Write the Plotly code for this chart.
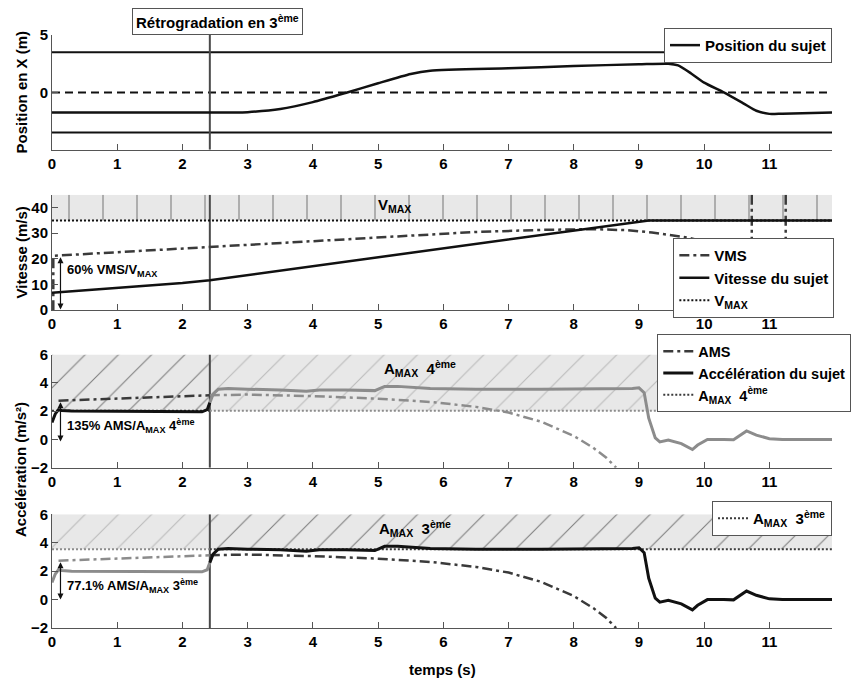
import plotly.graph_objects as go

# ---------------- data ----------------
EVENT_T = 2.42
T_END = 11.96

# Panel 1 : lateral position
LANE_EDGES = [-3.5, 3.5]
LANE_CENTER = 0.0
pos_t = [0, 2.8, 3.0, 3.5, 4.0, 4.5, 5.0, 5.5, 5.8, 7.0, 8.0, 9.0, 9.45, 9.6, 9.8, 10.0, 10.3, 10.6, 10.8, 11.0, 11.2, 11.96]
pos_x = [-1.75, -1.75, -1.72, -1.45, -0.85, -0.05, 0.8, 1.6, 1.88, 2.1, 2.3, 2.45, 2.5, 2.35, 1.65, 0.85, 0.0, -0.95, -1.6, -1.87, -1.85, -1.75]

# Panel 2 : speed
VMAX = 35.0
V_TOP = 45.0
vms_t = [0.02, 0.02, 1.0, 2.0, 2.42, 3.0, 4.0, 5.0, 5.8, 6.5, 7.5, 8.3, 8.8, 9.2, 9.75, 10.2]
vms_v = [0.0, 21.2, 22.6, 24.0, 24.6, 25.5, 27.0, 28.4, 29.6, 30.5, 31.3, 31.6, 31.2, 30.3, 28.3, 25.5]
vms_spike_t = [10.73, 11.25]
vms_spike_lo = [20.0, 20.0]
speed_t = [0, 1.0, 2.0, 2.42, 4.0, 6.0, 8.0, 9.15, 11.96]
speed_v = [6.8, 8.6, 10.6, 11.7, 17.2, 24.1, 31.1, 35.0, 35.0]

# Panels 3 & 4 : acceleration
AMAX_4 = 2.03
AMAX_3 = 3.55
A_TOP = 6.0
ams_t = [0.1, 1.0, 2.0, 2.42, 3.0, 4.0, 5.0, 5.8, 6.5, 7.0, 7.5, 8.0, 8.3, 8.5, 8.65]
ams_a = [2.74, 2.88, 3.03, 3.12, 3.17, 3.06, 2.88, 2.65, 2.3, 1.9, 1.25, 0.25, -0.6, -1.3, -2.0]
acc_t = [0, 0.05, 0.1, 0.15, 0.3, 1.0, 2.0, 2.3, 2.38, 2.42, 2.47, 2.55, 2.7, 3.0, 3.5, 3.9, 4.1, 4.5, 4.95,
         5.1, 5.3, 5.8, 6.5, 7.5, 8.5, 8.9, 9.0, 9.08, 9.15, 9.25, 9.32, 9.45, 9.65, 9.82, 9.9, 10.05, 10.3,
         10.45, 10.65, 10.8, 11.0, 11.2, 11.96]
acc_a = [1.2, 1.8, 2.1, 2.05, 2.0, 2.0, 2.0, 1.95, 2.1, 2.6, 3.2, 3.55, 3.6, 3.55, 3.5, 3.4, 3.5, 3.5, 3.45,
         3.75, 3.75, 3.6, 3.55, 3.55, 3.55, 3.6, 3.65, 3.3, 1.5, 0.1, -0.18, -0.05, -0.3, -0.72, -0.4, 0.0, 0.0,
         -0.02, 0.6, 0.3, 0.05, 0.0, 0.0]

X_TICKS = list(range(0, 12))

# ---------------- styling ----------------
FONT = "Liberation Sans"
BLACK = "#111111"
GRAY = "#8c8c8c"
DARK = "#3a3a3a"
EVT = "#4a4a4a"
BAND = "#e8e8e8"
DASHDOT = "10px,4px,3px,4px"
DOT = "2px,2px"


def split(t, v, cut):
    b = [(a, c) for a, c in zip(t, v) if a <= cut]
    f = [(a, c) for a, c in zip(t, v) if a >= cut]
    return [p[0] for p in b], [p[1] for p in b], [p[0] for p in f], [p[1] for p in f]


fig = go.Figure()

# ---- panel 1 ----
for ly in LANE_EDGES:
    fig.add_trace(go.Scatter(x=[0, T_END], y=[ly, ly], mode="lines", line=dict(color=BLACK, width=2),
                             showlegend=False, xaxis="x", yaxis="y", hoverinfo="skip"))
fig.add_trace(go.Scatter(x=[0, T_END], y=[LANE_CENTER, LANE_CENTER], mode="lines",
                         line=dict(color=BLACK, width=2, dash="8px,5px"), showlegend=False,
                         xaxis="x", yaxis="y", hoverinfo="skip"))
fig.add_trace(go.Scatter(x=[EVENT_T, EVENT_T], y=[-5, 5], mode="lines", line=dict(color=EVT, width=2),
                         showlegend=False, xaxis="x", yaxis="y"))
fig.add_trace(go.Scatter(x=pos_t, y=pos_x, mode="lines", line=dict(color=BLACK, width=2.5, shape="spline", smoothing=0.6),
                         name="Position du sujet", legend="legend", xaxis="x", yaxis="y"))

# ---- panel 2 ----
fig.add_trace(go.Scatter(x=[0, T_END, T_END, 0, 0], y=[VMAX, VMAX, V_TOP, V_TOP, VMAX], mode="lines",
                         fill="toself", fillcolor=BAND, line=dict(width=0),
                         fillpattern=dict(shape="|", bgcolor=BAND, fgcolor="#222222", size=34, solidity=0.035),
                         showlegend=False, xaxis="x2", yaxis="y2", hoverinfo="skip"))
fig.add_trace(go.Scatter(x=[EVENT_T, EVENT_T], y=[0, V_TOP], mode="lines", line=dict(color=EVT, width=2),
                         showlegend=False, xaxis="x2", yaxis="y2"))
fig.add_trace(go.Scatter(x=vms_t, y=vms_v, mode="lines", line=dict(color=DARK, width=2.5, dash=DASHDOT),
                         name="VMS", legend="legend2", xaxis="x2", yaxis="y2"))
sx, sy = [], []
for st, lo in zip(vms_spike_t, vms_spike_lo):
    sx += [st, st, None]
    sy += [V_TOP, lo, None]
fig.add_trace(go.Scatter(x=sx, y=sy, mode="lines", line=dict(color=DARK, width=2.5, dash=DASHDOT),
                         showlegend=False, xaxis="x2", yaxis="y2"))
fig.add_trace(go.Scatter(x=speed_t, y=speed_v, mode="lines", line=dict(color=BLACK, width=2.5),
                         name="Vitesse du sujet", legend="legend2", xaxis="x2", yaxis="y2"))
fig.add_trace(go.Scatter(x=[0, T_END], y=[VMAX, VMAX], mode="lines", line=dict(color=BLACK, width=2, dash=DOT),
                         name="V<sub>MAX</sub>", legend="legend2", xaxis="x2", yaxis="y2"))


# ---- panels 3 & 4 ----
def accel_panel(xa, ya, amax, before_active, leg, amax_label, show_all):
    c_b = BLACK if before_active else GRAY
    c_f = GRAY if before_active else BLACK
    cd_b = DARK if before_active else GRAY
    cd_f = GRAY if before_active else DARK
    for (x0, x1, col) in [(0, EVENT_T, c_b), (EVENT_T, T_END, c_f)]:
        fig.add_trace(go.Scatter(x=[x0, x1, x1, x0, x0], y=[amax, amax, A_TOP, A_TOP, amax], mode="lines",
                                 fill="toself", fillcolor=BAND, line=dict(width=0),
                                 fillpattern=dict(shape="/", bgcolor=BAND, fgcolor=col, size=23.5, solidity=0.045),
                                 showlegend=False, xaxis=xa, yaxis=ya, hoverinfo="skip"))
    fig.add_trace(go.Scatter(x=[EVENT_T, EVENT_T], y=[-2, A_TOP], mode="lines", line=dict(color=EVT, width=2),
                             showlegend=False, xaxis=xa, yaxis=ya))
    tb, vb, tf, vf = split(ams_t, ams_a, EVENT_T)
    fig.add_trace(go.Scatter(x=tb, y=vb, mode="lines", line=dict(color=cd_b, width=2.5, dash=DASHDOT),
                             name="AMS", legend=leg, showlegend=show_all, xaxis=xa, yaxis=ya))
    fig.add_trace(go.Scatter(x=tf, y=vf, mode="lines", line=dict(color=cd_f, width=2.5, dash=DASHDOT),
                             showlegend=False, xaxis=xa, yaxis=ya))
    fig.add_trace(go.Scatter(x=[0, EVENT_T], y=[amax, amax], mode="lines",
                             line=dict(color=cd_b, width=2, dash=DOT), showlegend=False, xaxis=xa, yaxis=ya))
    fig.add_trace(go.Scatter(x=[EVENT_T, T_END], y=[amax, amax], mode="lines",
                             line=dict(color=cd_f, width=2, dash=DOT), showlegend=False, xaxis=xa, yaxis=ya))
    tb, vb, tf, vf = split(acc_t, acc_a, EVENT_T)
    fig.add_trace(go.Scatter(x=tb, y=vb, mode="lines", line=dict(color=c_b, width=3),
                             name="Accélération du sujet", legend=leg, showlegend=show_all, xaxis=xa, yaxis=ya))
    fig.add_trace(go.Scatter(x=tf, y=vf, mode="lines", line=dict(color=c_f, width=3),
                             showlegend=False, xaxis=xa, yaxis=ya))
    # legend entry for the limit
    fig.add_trace(go.Scatter(x=[None], y=[None], mode="lines", line=dict(color=DARK, width=2, dash=DOT),
                             name=amax_label, legend=leg, xaxis=xa, yaxis=ya))


accel_panel("x3", "y3", AMAX_4, True, "legend3", "A<sub>MAX</sub>  4<sup>ème</sup>", True)
accel_panel("x4", "y4", AMAX_3, False, "legend4", "A<sub>MAX</sub>  3<sup>ème</sup>", False)

# ---------------- layout ----------------
tickfont = dict(family=FONT, size=15, color="black", weight="bold")
xcommon = dict(range=[0, T_END], tickvals=X_TICKS, ticks="inside", ticklen=6, tickcolor="#555",
               showline=True, linecolor="#555", linewidth=1, showgrid=False, zeroline=False,
               tickfont=tickfont, fixedrange=True)
ycommon = dict(ticks="inside", ticklen=6, tickcolor="#555", showline=True, linecolor="#555", linewidth=1,
               showgrid=False, zeroline=False, tickfont=tickfont, fixedrange=True)

doms = {1: [0.8064, 1.0], 2: [0.5359, 0.7306], 3: [0.2704, 0.4611], 4: [0.0, 0.1917]}

# the page body adds an 8 px offset: the figure is sized and margined to compensate
layout = dict(
    width=854, height=678,
    margin=dict(l=44, r=30, t=27, b=58, autoexpand=False),
    paper_bgcolor="white", plot_bgcolor="white",
    font=dict(family=FONT, size=14, color="black", weight="bold"),
)
for i in range(1, 5):
    s = "" if i == 1 else str(i)
    layout["xaxis" + s] = dict(xcommon, anchor="y" + s, domain=[0, 1])
yr = {1: [-5, 5], 2: [0, V_TOP], 3: [-2, A_TOP], 4: [-2, A_TOP]}
ytv = {1: [0, 5], 2: [0, 10, 20, 30, 40], 3: [-2, 0, 2, 4, 6], 4: [-2, 0, 2, 4, 6]}
for i in range(1, 5):
    s = "" if i == 1 else str(i)
    layout["yaxis" + s] = dict(ycommon, anchor="x" + s, domain=doms[i], range=yr[i], tickvals=ytv[i])

legstyle = dict(bgcolor="white", bordercolor="#555", borderwidth=1,
                font=dict(family=FONT, size=15, color="black", weight="bold"), tracegroupgap=0)
layout["legend"] = dict(legstyle, x=1.0, xanchor="right", y=1.012, yanchor="top")
layout["legend2"] = dict(legstyle, x=1.003, xanchor="right", y=0.6576, yanchor="top")
layout["legend3"] = dict(legstyle, x=0.776, xanchor="left", y=0.4954, yanchor="top",
                         font=dict(family=FONT, size=14.5, color="black", weight="bold"))
layout["legend4"] = dict(legstyle, x=1.0, xanchor="right", y=0.2143, yanchor="top")

fig.update_layout(**layout)

ann = []
# event box
ann.append(dict(text="Rétrogradation en 3<sup>ème</sup>", x=EVENT_T, xref="x", y=1.0, yref="paper",
                yanchor="bottom", xanchor="center", xshift=8, showarrow=False, bgcolor="white",
                bordercolor="#555", borderwidth=1, borderpad=3, font=dict(size=15)))
# y titles
ytitle_font = dict(family=FONT, size=15, color="black", weight="bold")
for txt, yy in [("Position en X (m)", 0.9032), ("Vitesse (m/s)", 0.6333), ("Accélération (m/s²)", 0.2665)]:
    ann.append(dict(text=txt, x=0, xref="paper", xshift=-31, y=yy, yref="paper", textangle=-90,
                    showarrow=False, xanchor="center", yanchor="middle", font=ytitle_font))
ann.append(dict(text="temps (s)", x=0.5, xref="paper", y=0, yref="paper", yshift=-41, showarrow=False,
                yanchor="middle", font=dict(size=15)))
# band labels
ann.append(dict(text="V<sub>MAX</sub>", x=5.25, y=41.0, xref="x2", yref="y2", showarrow=False, font=dict(size=15)))
ann.append(dict(text="A<sub>MAX</sub>  4<sup>ème</sup>", x=5.65, y=5.0, xref="x3", yref="y3", showarrow=False,
                font=dict(size=15)))
ann.append(dict(text="A<sub>MAX</sub>  3<sup>ème</sup>", x=5.57, y=5.0, xref="x4", yref="y4", showarrow=False,
                font=dict(size=15)))
# ratio arrows
for xa, ya, top, bot, txt, ty in [
    ("x2", "y2", 21.2, 0.3, "60% VMS/V<sub>MAX</sub>", 15.5),
    ("x3", "y3", ams_a[0], -0.15, "135% AMS/A<sub>MAX</sub> 4<sup>ème</sup>", 0.95),
    ("x4", "y4", ams_a[0], 0.0, "77.1% AMS/A<sub>MAX</sub> 3<sup>ème</sup>", 0.95),
]:
    ann.append(dict(x=0.13, y=bot, ax=0.13, ay=top, xref=xa, yref=ya, axref=xa, ayref=ya, text="",
                    showarrow=True, arrowhead=2, arrowside="end+start", arrowsize=1, arrowwidth=1.2,
                    arrowcolor=BLACK))
    ann.append(dict(text=txt, x=0.2, y=ty, xref=xa, yref=ya, xanchor="left", showarrow=False,
                    font=dict(size=13)))
fig.update_layout(annotations=ann)

fig.write_html("out.html")
